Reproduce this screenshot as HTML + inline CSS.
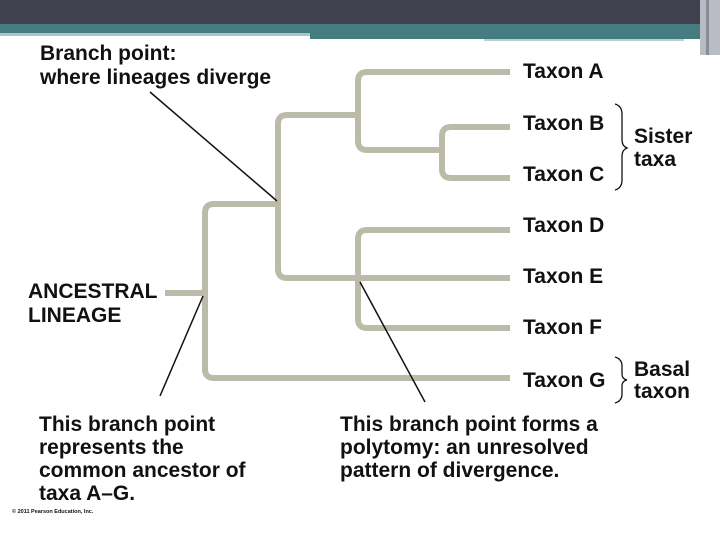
<!DOCTYPE html>
<html><head><meta charset="utf-8"><style>
html,body{margin:0;padding:0;background:#fff;}
svg{display:block;}
text{font-family:"Liberation Sans",Arial,sans-serif;font-weight:bold;fill:#111;}
</style></head><body>
<svg width="720" height="540" viewBox="0 0 720 540" xmlns="http://www.w3.org/2000/svg">
<rect x="0" y="0" width="720" height="24" fill="#40404f"/>
<rect x="0" y="24" width="720" height="9" fill="#447c80"/>
<rect x="0" y="33" width="310" height="3" fill="#a8c4c6"/>
<rect x="310" y="33" width="410" height="6" fill="#447c80"/>
<rect x="484" y="39" width="200" height="2" fill="#b8cfd1"/>
<rect x="700" y="0" width="20" height="55" fill="#b9bcc4"/>
<rect x="706" y="0" width="3" height="55" fill="#8a8d98"/>
<g fill="none" stroke="#bcbaa8" stroke-width="6" stroke-linejoin="round">
<line x1="165" y1="293" x2="205" y2="293"/>
<path d="M510 378 H214 Q205 378 205 369 V213 Q205 204 214 204 H278"/>
<path d="M358 115 H287 Q278 115 278 124 V269 Q278 278 287 278 H510"/>
<path d="M510 72 H367 Q358 72 358 81 V141 Q358 150 367 150 H442"/>
<path d="M510 127 H451 Q442 127 442 136 V169 Q442 178 451 178 H510"/>
<path d="M510 230 H367 Q358 230 358 239 V319 Q358 328 367 328 H510"/>
</g>
<g stroke="#111" stroke-width="1.5">
<line x1="150" y1="92" x2="277" y2="201"/>
<line x1="203" y1="296" x2="160" y2="396"/>
<line x1="360" y1="282" x2="425" y2="402"/>
</g>
<g fill="none" stroke="#111" stroke-width="1.3">
<path d="M615 104 Q622 106 622 114 V140 Q622 146 627 148 Q622 150 622 156 V180 Q622 188 615 190"/>
<path d="M615 357 Q622 359 622 366 V374 Q622 379 627 380 Q622 381 622 386 V394 Q622 401 615 403"/>
</g>
<g font-size="21">
<text x="40" y="60">Branch point:</text>
<text x="40" y="84">where lineages diverge</text>
<text x="28" y="298">ANCESTRAL</text>
<text x="28" y="322">LINEAGE</text>
<text x="523" y="78">Taxon A</text>
<text x="523" y="130">Taxon B</text>
<text x="523" y="181">Taxon C</text>
<text x="523" y="232">Taxon D</text>
<text x="523" y="283">Taxon E</text>
<text x="523" y="334">Taxon F</text>
<text x="523" y="387">Taxon G</text>
<text x="634" y="143">Sister</text>
<text x="634" y="166">taxa</text>
<text x="634" y="376">Basal</text>
<text x="634" y="398">taxon</text>
<text x="39" y="431">This branch point</text>
<text x="39" y="454">represents the</text>
<text x="39" y="477">common ancestor of</text>
<text x="39" y="500">taxa A–G.</text>
<text x="340" y="431">This branch point forms a</text>
<text x="340" y="454">polytomy: an unresolved</text>
<text x="340" y="477">pattern of divergence.</text>
</g>
<text x="12" y="513" font-size="5.5" font-weight="normal" fill="#444">© 2011 Pearson Education, Inc.</text>
</svg>
</body></html>
